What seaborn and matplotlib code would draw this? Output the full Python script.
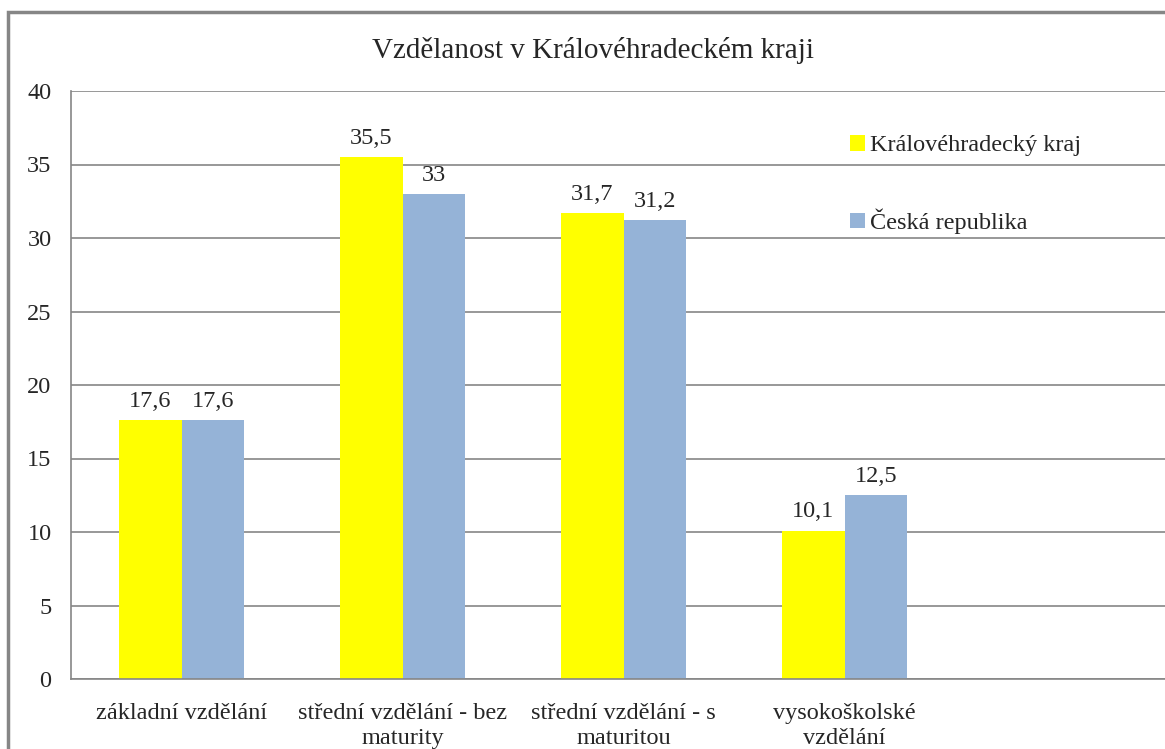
import matplotlib
matplotlib.use("Agg")
import matplotlib.pyplot as plt
import matplotlib.patches as mpatches
import pandas as pd
import seaborn as sns

# ── Data ──────────────────────────────────────────────────────────────────────
CATEGORIES = [
    "základní vzdělání",
    "střední vzdělání - bez\nmaturity",
    "střední vzdělání - s\nmaturitou",
    "vysokoškolské\nvzdělání",
]
SERIES = ["Královéhradecký kraj", "Česká republika"]
KHK_VALUES = [17.6, 35.5, 31.7, 10.1]
CR_VALUES = [17.6, 33.0, 31.2, 12.5]
Y_TICKS = [0, 5, 10, 15, 20, 25, 30, 35, 40]
TITLE = "Vzdělanost v Královéhradeckém kraji"

COLORS = ["#FFFF00", "#95B3D7"]
GRID = "#868686"

df = pd.DataFrame({
    "kategorie": CATEGORIES * 2,
    "podil": KHK_VALUES + CR_VALUES,
    "serie": [SERIES[0]] * len(CATEGORIES) + [SERIES[1]] * len(CATEGORIES),
})

# ── Plot ──────────────────────────────────────────────────────────────────────
sns.set_theme(style="white")
plt.rcParams["font.family"] = ["Liberation Serif", "DejaVu Serif"]

W, H = 1165, 749
FS = 17.5
fig = plt.figure(figsize=(W / 100, H / 100), dpi=100)
ax = fig.add_axes([71 / W, 1 - 679 / H, 1 - 71 / W, (679 - 91) / H])

sns.barplot(data=df, x="kategorie", y="podil", hue="serie", order=CATEGORIES,
            hue_order=SERIES, palette=COLORS, width=0.57, saturation=1,
            edgecolor="none", linewidth=0, ax=ax, legend=True)

for container, vals in zip(ax.containers, [KHK_VALUES, CR_VALUES]):
    labels = [f"{v:g}".replace(".", ",") for v in vals]
    ax.bar_label(container, labels=labels, padding=6, fontsize=FS)

ax.set_ylim(0, 40)
ax.set_yticks(Y_TICKS)
ax.set_xlim(-0.5, -0.5 + (W - 71) / 221)
ax.yaxis.grid(True, color=GRID, linewidth=1.2)
ax.set_axisbelow(True)
ax.tick_params(axis="both", length=0, labelsize=FS)
ax.tick_params(axis="y", pad=14)
ax.tick_params(axis="x", pad=17)
ax.set_xlabel("")
ax.set_ylabel("")
for s in ("top", "right"):
    ax.spines[s].set_visible(False)
for s in ("left", "bottom"):
    ax.spines[s].set_color(GRID)
    ax.spines[s].set_linewidth(1.2)
for lbl in ax.get_xticklabels():
    lbl.set_linespacing(1.3)

handles, _ = ax.get_legend_handles_labels()
ax.legend(handles, SERIES, loc="upper left", bbox_to_anchor=(838 / W, 1 - 123 / H),
          bbox_transform=fig.transFigure, frameon=False, fontsize=FS,
          handlelength=0.6, handleheight=0.6, handletextpad=0.2,
          labelspacing=2.15, borderpad=0)

fig.text(593 / W, 1 - 50 / H, TITLE, ha="center", va="center", fontsize=21)

# outer chart border (left and top only; the right/bottom are cropped off)
fig.patches.append(mpatches.Rectangle((8 / W, -0.1), 1.2, 1.1 - 12 / H,
                                      transform=fig.transFigure, fill=False,
                                      edgecolor=GRID, linewidth=2.5))

fig.savefig("out.png", dpi=100)
plt.close(fig)
